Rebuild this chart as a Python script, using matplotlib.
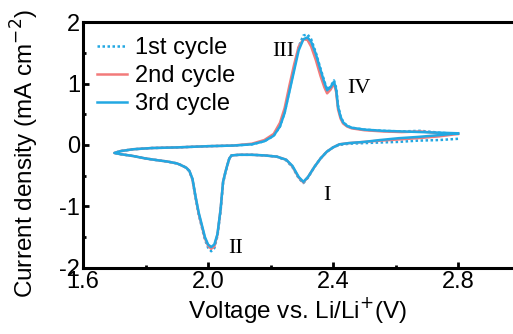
import numpy as np
import matplotlib.pyplot as plt
from matplotlib.ticker import MultipleLocator

plt.rcParams['font.family'] = ['Liberation Sans', 'DejaVu Sans']
plt.rcParams['axes.unicode_minus'] = False

# cathodic sweep 2.8 -> 1.7 V, then anodic sweep 1.7 -> 2.8 V
v_cath = [2.80, 2.74, 2.67, 2.61, 2.55, 2.50, 2.45, 2.42, 2.40, 2.38, 2.36, 2.34,
          2.32, 2.305, 2.29, 2.27, 2.25, 2.22, 2.18, 2.14, 2.10, 2.075, 2.068,
          2.062, 2.055, 2.048, 2.04, 2.03, 2.02, 2.01, 2.00, 1.99, 1.984, 1.97,
          1.96, 1.95, 1.94, 1.93, 1.91, 1.90, 1.87, 1.84, 1.80, 1.76, 1.72, 1.70]
i3_cath = [0.19, 0.16, 0.13, 0.11, 0.08, 0.05, 0.03, 0.01, -0.04, -0.11, -0.22, -0.36,
           -0.52, -0.60, -0.52, -0.34, -0.24, -0.19, -0.17, -0.16, -0.16, -0.17, -0.22,
           -0.32, -0.45, -0.60, -1.05, -1.45, -1.62, -1.66, -1.62, -1.50, -1.38, -1.10,
           -0.84, -0.55, -0.42, -0.37, -0.32, -0.30, -0.27, -0.25, -0.22, -0.18, -0.15, -0.13]
i2_cath = [0.18, 0.14, 0.11, 0.09, 0.07, 0.05, 0.03, 0.01, -0.04, -0.11, -0.22, -0.36,
           -0.52, -0.61, -0.53, -0.35, -0.24, -0.19, -0.17, -0.16, -0.16, -0.17, -0.22,
           -0.32, -0.45, -0.60, -1.05, -1.46, -1.65, -1.69, -1.64, -1.52, -1.40, -1.12,
           -0.85, -0.56, -0.42, -0.37, -0.32, -0.30, -0.27, -0.25, -0.22, -0.18, -0.15, -0.13]
i1_cath = [0.10, 0.08, 0.07, 0.05, 0.04, 0.03, 0.02, 0.00, -0.04, -0.11, -0.22, -0.36,
           -0.53, -0.62, -0.54, -0.36, -0.25, -0.19, -0.17, -0.16, -0.16, -0.17, -0.22,
           -0.33, -0.46, -0.62, -1.08, -1.48, -1.68, -1.73, -1.67, -1.54, -1.42, -1.13,
           -0.86, -0.56, -0.43, -0.37, -0.32, -0.30, -0.27, -0.25, -0.22, -0.18, -0.15, -0.13]

v_anod = [1.70, 1.72, 1.76, 1.82, 1.90, 2.00, 2.08, 2.14, 2.18, 2.21, 2.23, 2.245,
          2.26, 2.275, 2.29, 2.305, 2.318, 2.33, 2.345, 2.36, 2.372, 2.381, 2.392,
          2.403, 2.41, 2.416, 2.424, 2.432, 2.445, 2.46, 2.50, 2.56, 2.62, 2.68,
          2.74, 2.80]
i3_anod = [-0.13, -0.10, -0.07, -0.05, -0.04, -0.02, -0.01, 0.01, 0.06, 0.15, 0.30, 0.52,
           0.86, 1.20, 1.54, 1.72, 1.75, 1.68, 1.48, 1.22, 1.02, 0.89, 0.94, 1.03,
           0.90, 0.62, 0.46, 0.37, 0.31, 0.28, 0.25, 0.23, 0.22, 0.21, 0.20, 0.19]
i2_anod = [-0.13, -0.10, -0.07, -0.05, -0.04, -0.02, -0.01, 0.02, 0.08, 0.18, 0.36, 0.60,
           0.96, 1.30, 1.60, 1.72, 1.71, 1.60, 1.38, 1.12, 0.94, 0.84, 0.90, 1.00,
           0.86, 0.58, 0.43, 0.35, 0.30, 0.27, 0.24, 0.22, 0.21, 0.22, 0.19, 0.18]
i1_anod = [-0.13, -0.10, -0.07, -0.05, -0.04, -0.02, -0.01, 0.01, 0.06, 0.15, 0.30, 0.53,
           0.88, 1.24, 1.60, 1.78, 1.80, 1.72, 1.50, 1.24, 1.04, 0.90, 0.95, 1.05,
           0.93, 0.64, 0.47, 0.38, 0.31, 0.28, 0.25, 0.23, 0.22, 0.23, 0.20, 0.18]

v = v_cath + v_anod
cycles = {
    '1st cycle': i1_cath + i1_anod,
    '2nd cycle': i2_cath + i2_anod,
    '3rd cycle': i3_cath + i3_anod,
}

blue = '#22a8e2'
red = '#f27a7a'

fig = plt.figure(figsize=(5.13, 3.34), dpi=100)
ax = fig.add_axes([0.162, 0.198, 0.838, 0.736])

ax.plot(v, cycles['1st cycle'], color=blue, lw=1.8, ls=(0, (1, 1)), label='1st cycle')
ax.plot(v, cycles['2nd cycle'], color=red, lw=1.8, label='2nd cycle')
ax.plot(v, cycles['3rd cycle'], color=blue, lw=1.8, label='3rd cycle')

ax.set_xlim(1.6, 2.976)
ax.set_ylim(-2, 2)
ax.set_xticks([1.6, 2.0, 2.4, 2.8])
ax.set_xticklabels(['1.6', '2.0', '2.4', '2.8'])
ax.set_yticks([-2, -1, 0, 1, 2])
ax.xaxis.set_minor_locator(MultipleLocator(0.2))
ax.yaxis.set_minor_locator(MultipleLocator(0.5))
ax.tick_params(which='both', direction='in', width=2, labelsize=17, pad=2)
ax.tick_params(which='major', length=4)
ax.tick_params(which='minor', length=2)
ax.tick_params(top=False, right=False)
for s in ['left', 'bottom', 'top']:
    ax.spines[s].set_linewidth(2.2)
ax.spines['right'].set_visible(False)

ax.set_xlabel('Voltage vs. Li/Li$^{+}$(V)', fontsize=17.5, labelpad=2)
ax.set_ylabel('Current density (mA cm$^{-2}$)', fontsize=17.5)
ax.yaxis.set_label_coords(-0.097, 0.465)

serif = ['Liberation Serif', 'DejaVu Serif']
ax.text(2.205, 1.45, 'III', fontsize=16, family=serif)
ax.text(2.445, 0.84, 'IV', fontsize=16, family=serif)
ax.text(2.37, -0.90, 'I', fontsize=16, family=serif)
ax.text(2.064, -1.76, 'II', fontsize=16, family=serif)

ax.legend(loc='upper left', frameon=False, fontsize=17, handlelength=1.27,
          handletextpad=0.34, labelspacing=0.26, borderaxespad=0, borderpad=0,
          bbox_to_anchor=(0.033, 0.939))

fig.savefig('out.png', dpi=100)
